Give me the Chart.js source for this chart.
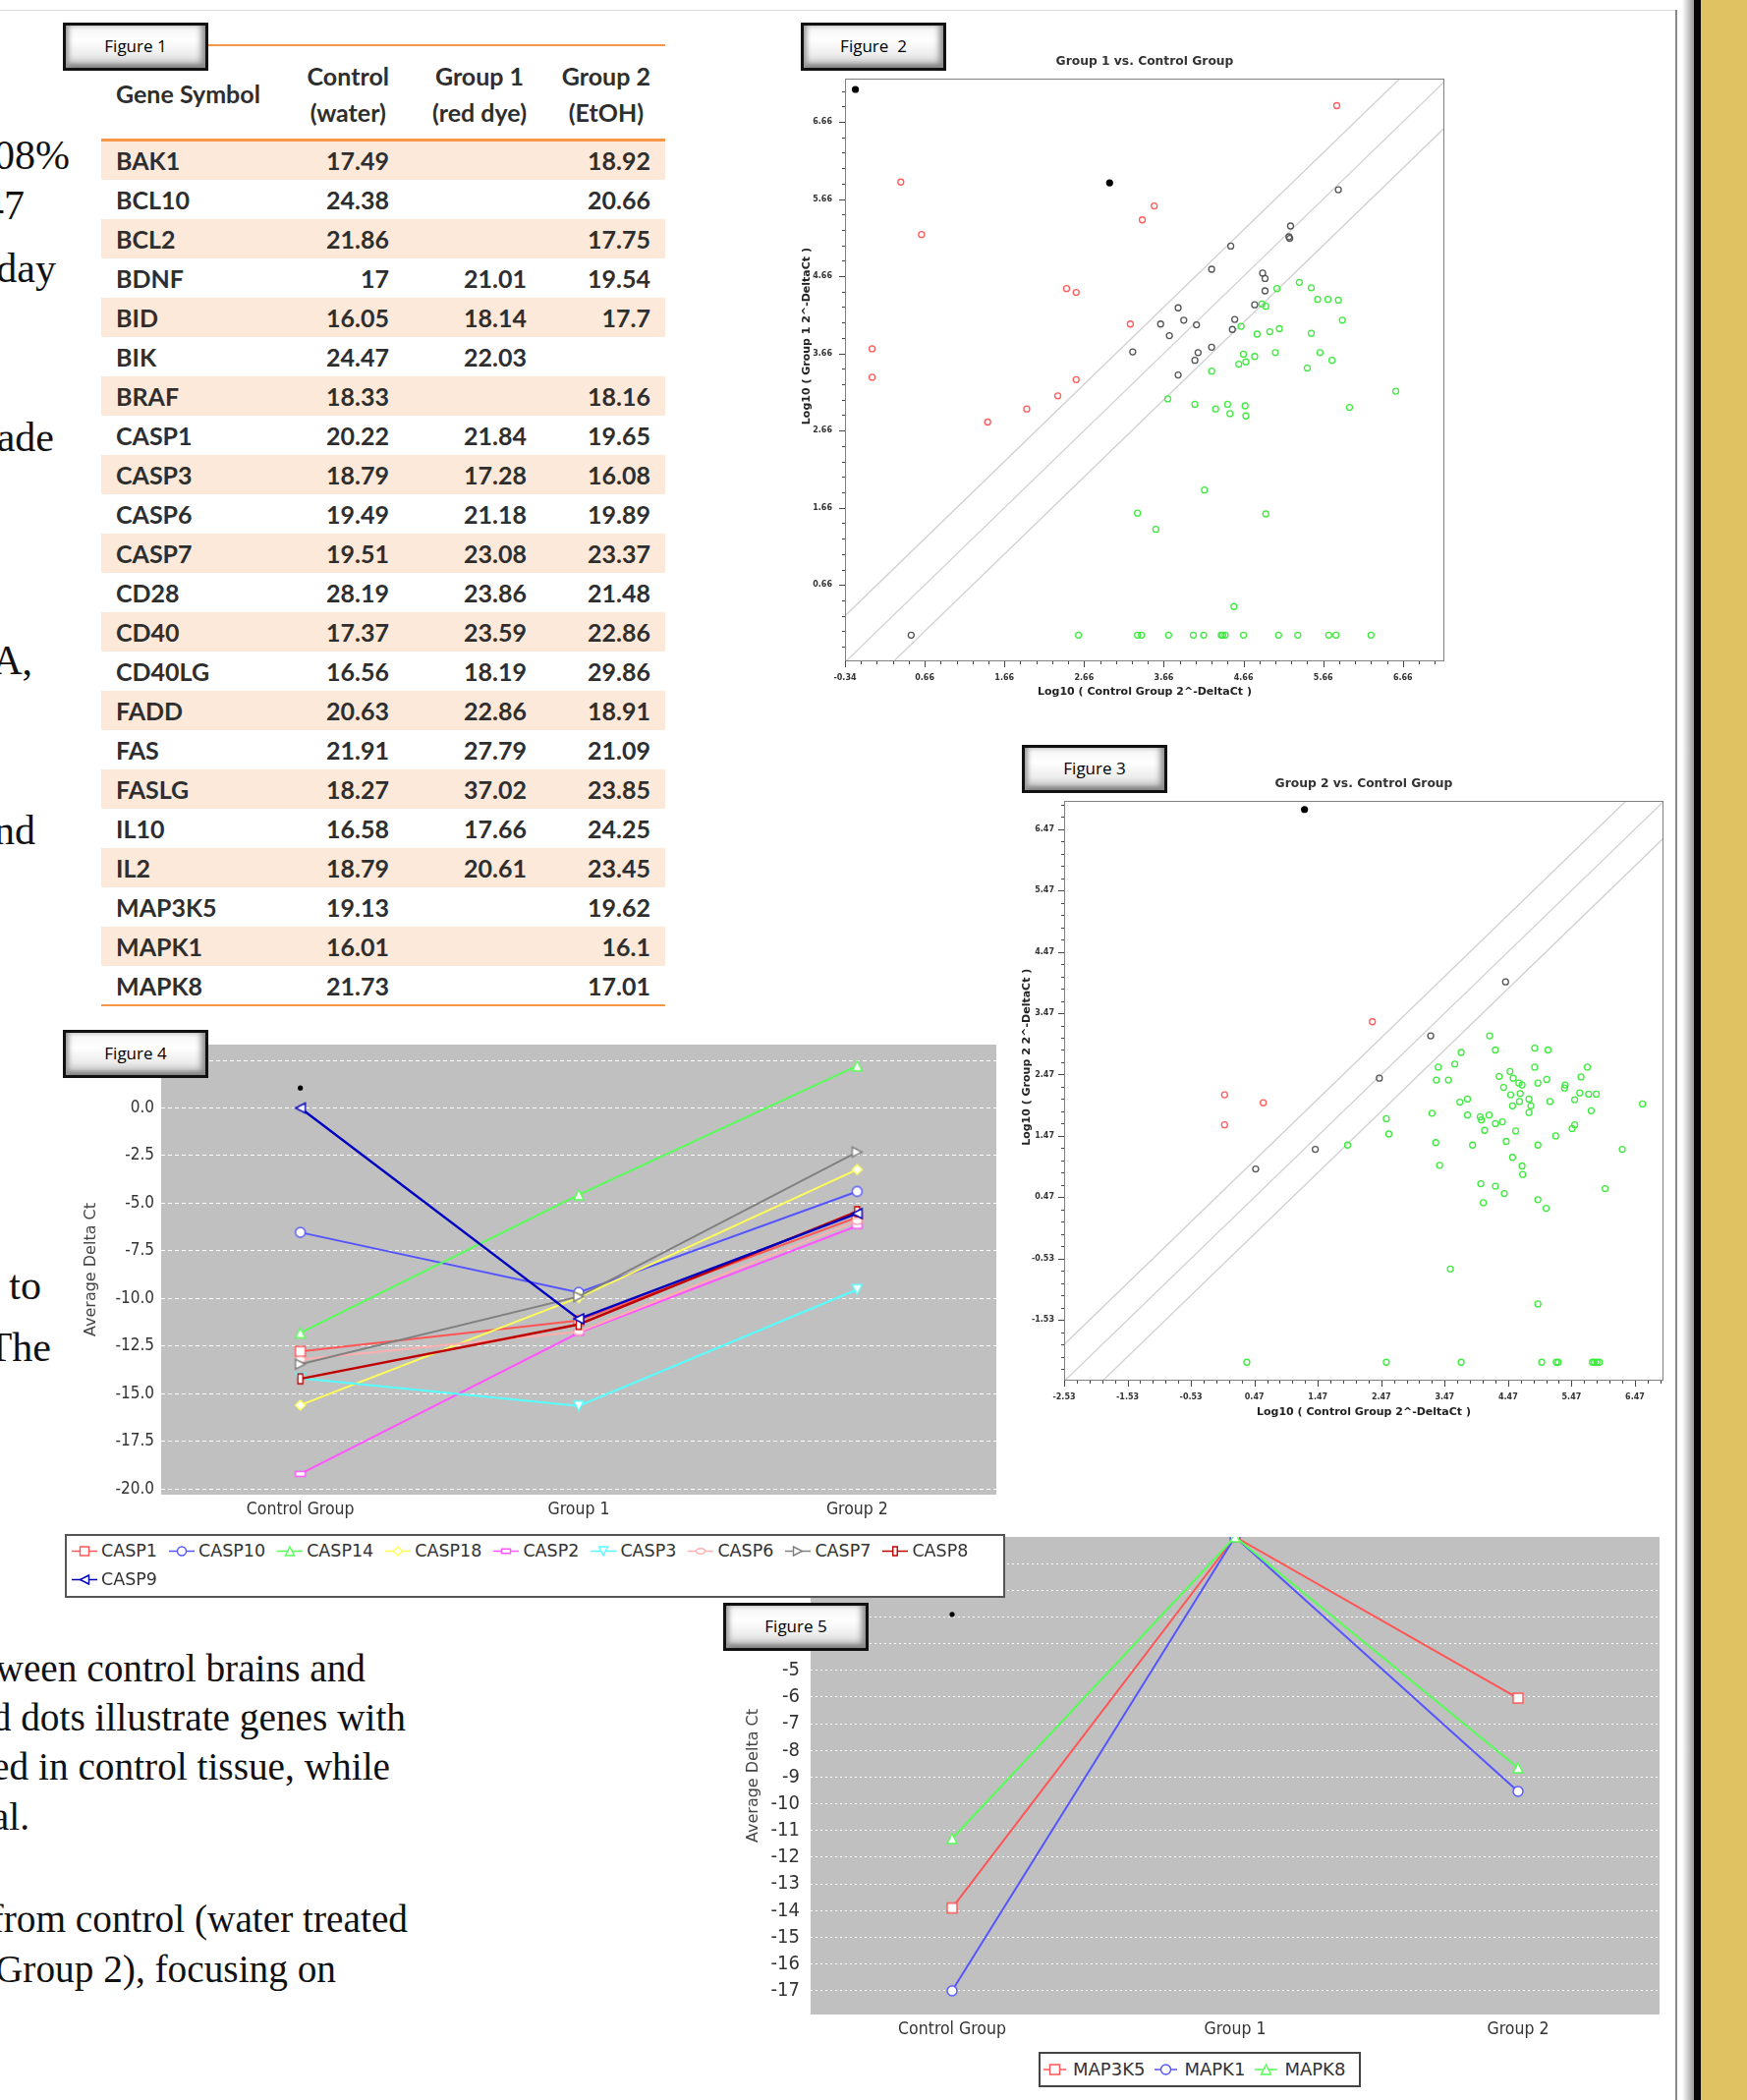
<!DOCTYPE html>
<html lang="en">
<head>
<meta charset="utf-8">
<title>Apoptosis gene expression figures</title>
<script src="https://cdn.jsdelivr.net/npm/chart.js@4.4.0/dist/chart.umd.min.js"></script>
<style>
  html, body { margin: 0; padding: 0; background: #fff; }
  body { position: relative; width: 1778px; height: 2137px; overflow: hidden; }
  .frag { position: absolute; white-space: nowrap; font-family: 'Liberation Serif', 'DejaVu Serif', serif; color: #111; text-align: right; }
  .frag.top { font-size: 42px; line-height: 42px; }
  .frag.bottom { font-size: 39.3px; line-height: 40px; }
  .fig-btn {
    position: absolute; box-sizing: border-box; width: 148px; height: 49px; z-index: 10;
    border: 3px solid #111;
    background: linear-gradient(to bottom, #f4f4f4 0%, #ffffff 35%, #ececec 70%, #b9b9b9 100%);
    box-shadow: inset 5px 0 5px -2px #9a9a9a, inset -6px 0 6px -2px #8a8a8a, inset 0 -6px 5px -3px #7a7a7a;
    font-family: 'Open Sans', 'Liberation Sans', sans-serif; font-size: 17px; color: #000;
    text-align: center; line-height: 42px; white-space: pre;
  }
  .orange { position: absolute; background: #F79646; }
  #table { position: absolute; left: 103px; top: 0; width: 574px; height: 1030px;
    font-family: Lato, 'Open Sans', sans-serif; font-weight: 700; font-size: 25px; color: #2e2e2e; }
  .row { position: absolute; left: 0; width: 574px; height: 40px; line-height: 40px; }
  .row.shade { background: #FDE9D9; }
  .cell { position: absolute; top: 0; white-space: nowrap; }
  .hdr { position: absolute; top: 59px; line-height: 37px; text-align: center; white-space: nowrap; }
  canvas { position: absolute; }
  .legend { position: absolute; box-sizing: border-box; background: #fff; z-index: 5;
    font-family: 'DejaVu Sans', sans-serif; color: #333; display: flex; flex-wrap: wrap; align-content: flex-start; }
  .legend .item { display: inline-flex; align-items: center; white-space: nowrap; }
  #legend4 { left: 66px; top: 1561px; width: 957px; height: 65px; border: 2px solid #555;
    font-size: 17.5px; line-height: 29px; padding: 1px 0 0 5px; }
  #legend4 .item { height: 29px; margin-right: 12px; }
  #legend4 .item canvas { position: static; margin-right: 4px; }
  #legend5 { left: 1057px; top: 2088px; width: 328px; height: 36px; border: 2px solid #444;
    font-size: 18px; line-height: 32px; padding: 0 0 0 3px; }
  #legend5 .item { height: 32px; margin-right: 10px; }
  #legend5 .item canvas { position: static; margin-right: 7px; }
</style>
</head>
<body>

<!-- page edges -->
<div style="position:absolute;left:0;top:10px;width:1705px;height:1px;background:#dcdcdc;"></div>
<div style="position:absolute;left:1705px;top:10px;width:2px;height:2127px;background:#8a8a8a;"></div>
<div style="position:absolute;left:1712px;top:0;width:12px;height:2137px;background:linear-gradient(to right,#ffffff,#9a9a9a);"></div>
<div style="position:absolute;left:1724px;top:0;width:7px;height:2137px;background:#050505;"></div>
<div style="position:absolute;left:1731px;top:0;width:47px;height:2137px;background:#E0C262;"></div>

<!-- cut-off body text on the left -->
<div class="frag top" style="right:1707px;top:137px;">08%</div>
<div class="frag top" style="right:1753px;top:188px;">47</div>
<div class="frag top" style="right:1721px;top:252px;">day</div>
<div class="frag top" style="right:1723px;top:424px;">ade</div>
<div class="frag top" style="right:1745px;top:651px;">A,</div>
<div class="frag top" style="right:1742px;top:824px;">nd</div>
<div class="frag top" style="right:1736px;top:1287px;">to</div>
<div class="frag top" style="right:1726px;top:1350px;">The</div>

<div class="frag bottom" style="right:1406px;top:1678px;">between control brains and</div>
<div class="frag bottom" style="right:1365px;top:1728px;">Red dots illustrate genes with</div>
<div class="frag bottom" style="right:1381px;top:1778px;">expressed in control tissue, while</div>
<div class="frag bottom" style="right:1748px;top:1829px;">normal.</div>
<div class="frag bottom" style="right:1363px;top:1933px;">from control (water treated</div>
<div class="frag bottom" style="right:1436px;top:1984px;">(Group 2), focusing on</div>

<!-- Figure 1 table -->
<div class="orange" style="left:103px;top:45px;width:574px;height:2px;"></div>
<div id="table">
  <div class="hdr" style="left:15px;top:77px;">Gene Symbol</div>
  <div class="hdr" style="right:281px;">Control<br>(water)</div>
  <div class="hdr" style="right:141px;">Group 1<br>(red dye)</div>
  <div class="hdr" style="right:15px;">Group 2<br>(EtOH)</div>
</div>
<div class="orange" style="left:103px;top:141px;width:574px;height:3px;"></div>
<div class="orange" style="left:103px;top:1022px;width:574px;height:2px;"></div>

<!-- figure buttons -->
<div class="fig-btn" style="left:64px;top:23px;">Figure 1</div>
<div class="fig-btn" style="left:815px;top:23px;">Figure  2</div>
<div class="fig-btn" style="left:1040px;top:758px;">Figure 3</div>
<div class="fig-btn" style="left:64px;top:1048px;">Figure 4</div>
<div class="fig-btn" style="left:736px;top:1631px;">Figure 5</div>

<canvas id="fig2" width="700" height="670" style="left:815px;top:50px;width:700px;height:670px;"></canvas>
<canvas id="fig3" width="686" height="670" style="left:1040px;top:784px;width:686px;height:670px;"></canvas>
<canvas id="fig4" width="965" height="505" style="left:60px;top:1050px;width:965px;height:505px;"></canvas>
<canvas id="fig5" width="960" height="528" style="left:740px;top:1557px;width:960px;height:528px;"></canvas>
<div id="legend4" class="legend"></div>
<div id="legend5" class="legend"></div>

<script>
// ---- Figure 1: raw Ct values ----
const genes = ['BAK1', 'BCL10', 'BCL2', 'BDNF', 'BID', 'BIK', 'BRAF', 'CASP1', 'CASP3', 'CASP6', 'CASP7',
  'CD28', 'CD40', 'CD40LG', 'FADD', 'FAS', 'FASLG', 'IL10', 'IL2', 'MAP3K5', 'MAPK1', 'MAPK8'];
const ctControl = [17.49, 24.38, 21.86, 17, 16.05, 24.47, 18.33, 20.22, 18.79, 19.49, 19.51,
  28.19, 17.37, 16.56, 20.63, 21.91, 18.27, 16.58, 18.79, 19.13, 16.01, 21.73];
const ctGroup1 = [null, null, null, 21.01, 18.14, 22.03, null, 21.84, 17.28, 21.18, 23.08,
  23.86, 23.59, 18.19, 22.86, 27.79, 37.02, 17.66, 20.61, null, null, null];
const ctGroup2 = [18.92, 20.66, 17.75, 19.54, 17.7, null, 18.16, 19.65, 16.08, 19.89, 23.37,
  21.48, 22.86, 29.86, 18.91, 21.09, 23.85, 24.25, 23.45, 19.62, 16.1, 17.01];

// ---- Figure 2: Group 1 vs Control (log10 2^-dCt) ----
const fig2Ticks = [-0.34, 0.66, 1.66, 2.66, 3.66, 4.66, 5.66, 6.66];
const fig2Black = [[-0.21, 7.08], [2.98, 5.87]];
const fig2Up = [[5.83, 6.87], [0.36, 5.88], [0.62, 5.20], [3.54, 5.57], [3.39, 5.39], [2.44, 4.50], [2.56, 4.45],
  [3.24, 4.04], [0.00, 3.72], [0.00, 3.35], [2.56, 3.32], [2.33, 3.11], [1.94, 2.94], [1.45, 2.77]];
const fig2Same = [[5.85, 5.78], [5.25, 5.31], [5.23, 5.17], [5.24, 5.15], [4.50, 5.05], [4.26, 4.75], [4.90, 4.70],
  [4.93, 4.63], [4.93, 4.47], [4.80, 4.29], [3.84, 4.25], [3.62, 4.04], [3.91, 4.09], [4.07, 4.03], [3.73, 3.89],
  [4.55, 4.10], [4.52, 3.97], [3.27, 3.68], [4.26, 3.74], [4.09, 3.67], [4.05, 3.57], [3.84, 3.38], [0.49, 0.01]];
const fig2Down = [[5.36, 4.58], [5.51, 4.51], [5.08, 4.50], [5.59, 4.36], [5.72, 4.36], [5.85, 4.35], [4.89, 4.30],
  [4.94, 4.27], [5.90, 4.09], [4.63, 4.01], [4.83, 3.91], [4.99, 3.94], [5.11, 3.98], [5.51, 3.92], [4.66, 3.65],
  [4.80, 3.62], [5.06, 3.67], [5.62, 3.67], [4.60, 3.52], [4.69, 3.55], [5.77, 3.57], [4.26, 3.43], [5.46, 3.47],
  [6.57, 3.17], [3.71, 3.07], [4.05, 3.00], [4.46, 3.00], [4.68, 2.98], [4.31, 2.94], [5.99, 2.96], [4.49, 2.88],
  [4.69, 2.85], [4.17, 1.89], [3.33, 1.59], [4.94, 1.58], [3.56, 1.38], [4.54, 0.38],
  [2.59, 0.01], [3.33, 0.01], [3.38, 0.01], [3.72, 0.01], [4.03, 0.01], [4.16, 0.01], [4.38, 0.01], [4.40, 0.01],
  [4.43, 0.01], [4.66, 0.01], [5.10, 0.01], [5.34, 0.01], [5.73, 0.01], [5.82, 0.01], [6.26, 0.01]];

// ---- Figure 3: Group 2 vs Control ----
const fig3Ticks = [-2.53, -1.53, -0.53, 0.47, 1.47, 2.47, 3.47, 4.47, 5.47, 6.47];
const fig3Black = [[1.26, 6.79]];
const fig3Up = [[2.33, 3.33], [0.00, 2.14], [0.61, 2.01], [0.00, 1.65]];
const fig3Same = [[4.43, 3.98], [3.25, 3.10], [2.44, 2.41], [1.43, 1.25], [0.49, 0.93]];
const fig3Down = [[4.18, 3.10], [3.73, 2.83], [4.27, 2.87], [4.89, 2.90], [5.10, 2.87], [3.63, 2.64], [3.37, 2.59],
  [4.50, 2.52], [4.33, 2.44], [4.55, 2.41], [4.89, 2.59], [5.72, 2.59], [5.62, 2.43], [3.34, 2.38], [3.53, 2.38],
  [4.64, 2.33], [4.69, 2.30], [4.94, 2.33], [5.08, 2.39], [5.37, 2.30], [5.36, 2.25], [4.40, 2.26], [4.51, 2.14],
  [4.66, 2.16], [5.60, 2.17], [5.74, 2.15], [5.86, 2.15], [3.83, 2.07], [3.71, 2.02], [4.80, 2.07], [4.65, 2.03],
  [5.13, 2.03], [5.52, 2.06], [6.59, 1.99], [4.54, 1.96], [4.83, 1.96], [5.78, 1.88], [3.27, 1.84], [3.83, 1.81],
  [4.03, 1.78], [4.17, 1.81], [4.05, 1.73], [4.80, 1.85], [2.55, 1.75], [4.27, 1.67], [4.38, 1.70], [5.52, 1.65],
  [5.48, 1.59], [4.10, 1.56], [4.59, 1.55], [2.59, 1.50], [5.22, 1.47], [1.94, 1.32], [3.33, 1.36], [3.91, 1.32],
  [4.44, 1.38], [4.94, 1.32], [6.27, 1.25], [4.54, 1.12], [3.39, 0.99], [4.69, 0.98], [4.70, 0.84], [4.04, 0.69],
  [4.27, 0.65], [4.41, 0.53], [6.00, 0.61], [4.94, 0.43], [4.08, 0.38], [5.07, 0.29], [3.56, -0.70], [4.94, -1.27],
  [0.35, -2.22], [2.55, -2.22], [3.73, -2.22], [5.00, -2.22], [5.23, -2.22], [5.26, -2.22], [5.80, -2.22],
  [5.83, -2.22], [5.87, -2.22], [5.91, -2.22]];

// fold-change boundaries drawn as y = x + offset
const foldOffsets = [0.6, 0, -0.6];

// ---- Figure 4: caspases, average delta Ct ----
const groups = ['Control Group', 'Group 1', 'Group 2'];
const casp1 = [-12.78, -11.16, -5.74];
const casp10 = [-6.53, -9.68, -4.38];
const casp14 = [-11.81, -4.56, 2.21];
const casp18 = [-15.60, -9.95, -3.23];
const casp2 = [-19.21, -11.80, -6.19];
const casp3 = [-14.18, -15.64, -9.53];
const casp6 = [-13.20, -11.75, -5.94];
const casp7 = [-13.45, -9.90, -2.31];
const casp8 = [-14.22, -11.36, -5.44];
const casp9 = [0.00, -11.07, -5.54];
const fig4Dot = [1.05, null, null];
const fig4Ticks = [-20, -17.5, -15, -12.5, -10, -7.5, -5, -2.5, 0, 2.5];

// ---- Figure 5: MAP kinases ----
const map3k5 = [-13.9, 0, -6.04];
const mapk1 = [-17.0, 0, -9.53];
const mapk8 = [-11.3, 0, -8.65];
const fig5Dot = [-2.9, null, null];
const fig5Ticks = [-17, -16, -15, -14, -13, -12, -11, -10, -9, -8, -7, -6, -5, -4, -3, -2, -1];

Chart.defaults.font.family = "'DejaVu Sans', sans-serif";
const narrow = "'Liberation Sans Narrow', 'DejaVu Sans Condensed', 'Roboto', sans-serif";

// Table
function renderTable() {
    const table = document.getElementById('table');
    const fmt = v => (v === null ? '' : String(v));
    table.insertAdjacentHTML('beforeend', genes.map((g, i) => `
        <div class="row${i % 2 === 0 ? ' shade' : ''}" style="top:${143 + i * 40}px">
            <span class="cell" style="left:15px">${g}</span>
            <span class="cell" style="right:281px">${fmt(ctControl[i])}</span>
            <span class="cell" style="right:141px">${fmt(ctGroup1[i])}</span>
            <span class="cell" style="right:15px">${fmt(ctGroup2[i])}</span>
        </div>`).join(''));
}

// Markers (JFreeChart-like outlined shapes)
function drawMarker(g, shape, cx, cy, size, color) {
    const h = size / 2;
    g.beginPath();
    switch (shape) {
        case 'square': g.rect(cx - h, cy - h, size, size); break;
        case 'circle': g.arc(cx, cy, h, 0, Math.PI * 2); break;
        case 'triUp': g.moveTo(cx, cy - h); g.lineTo(cx + h, cy + h); g.lineTo(cx - h, cy + h); g.closePath(); break;
        case 'diamond': g.moveTo(cx, cy - h); g.lineTo(cx + h, cy); g.lineTo(cx, cy + h); g.lineTo(cx - h, cy); g.closePath(); break;
        case 'hrect': g.rect(cx - h, cy - h / 2, size, h); break;
        case 'triDown': g.moveTo(cx - h, cy - h); g.lineTo(cx + h, cy - h); g.lineTo(cx, cy + h); g.closePath(); break;
        case 'ellipse': g.ellipse(cx, cy, h, h * 0.6, 0, 0, Math.PI * 2); break;
        case 'triRight': g.moveTo(cx - h, cy - h); g.lineTo(cx + h, cy); g.lineTo(cx - h, cy + h); g.closePath(); break;
        case 'vrect': g.rect(cx - h / 2, cy - h, h, size); break;
        case 'triLeft': g.moveTo(cx + h, cy - h); g.lineTo(cx - h, cy); g.lineTo(cx + h, cy + h); g.closePath(); break;
    }
    g.fillStyle = '#fff';
    g.fill();
    g.lineWidth = 1.4;
    g.strokeStyle = color;
    g.stroke();
}

function markerImage(shape, color, size) {
    const c = document.createElement('canvas');
    c.width = c.height = size + 4;
    drawMarker(c.getContext('2d'), shape, (size + 4) / 2, (size + 4) / 2, size, color);
    return c;
}

function legendSymbol(shape, color, w, size) {
    const c = document.createElement('canvas');
    c.width = w;
    c.height = size + 4;
    const g = c.getContext('2d');
    g.strokeStyle = color;
    g.lineWidth = 1.5;
    g.beginPath();
    g.moveTo(0, c.height / 2);
    g.lineTo(w, c.height / 2);
    g.stroke();
    drawMarker(g, shape, w / 2, c.height / 2, size, color);
    return c;
}

function buildLegend(chart, elId, symWidth, size) {
    const el = document.getElementById(elId);
    chart.data.datasets.filter(d => d.label).forEach(d => {
        const item = document.createElement('span');
        item.className = 'item';
        item.appendChild(legendSymbol(d.shape, d.borderColor, symWidth, size));
        const t = document.createElement('span');
        t.textContent = d.label;
        item.appendChild(t);
        el.appendChild(item);
    });
}

// Plugins
const plotBg = {
    id: 'plotBg',
    beforeDraw(chart, args, opts) {
        const a = chart.chartArea;
        chart.ctx.save();
        chart.ctx.fillStyle = opts.color;
        chart.ctx.fillRect(a.left, a.top, a.right - a.left, a.bottom - a.top);
        chart.ctx.restore();
    }
};

const scatterFrame = {
    id: 'scatterFrame',
    afterDraw(chart, args, opts) {
        const { ctx, chartArea: a, scales } = chart;
        ctx.save();
        ctx.strokeStyle = opts.color;
        ctx.lineWidth = 1;
        ctx.strokeRect(a.left + 0.5, a.top + 0.5, a.right - a.left - 1, a.bottom - a.top - 1);

        // major + minor tick marks (5 minor steps per major step)
        ctx.strokeStyle = opts.tickColor;
        [scales.x, scales.y].forEach(scale => {
            const major = opts.ticks;
            const step = (major[1] - major[0]) / 5;
            for (let i = -10; i < 200; i++) {
                const v = major[0] + i * step;
                if (v < scale.min - 1e-6) continue;
                if (v > scale.max + 1e-6) break;
                const len = i % 5 === 0 ? 6 : 3;
                const p = Math.round(scale.getPixelForValue(v)) + 0.5;
                ctx.beginPath();
                if (scale.isHorizontal()) {
                    ctx.moveTo(p, a.bottom);
                    ctx.lineTo(p, a.bottom + len);
                } else {
                    ctx.moveTo(a.left, p);
                    ctx.lineTo(a.left - len, p);
                }
                ctx.stroke();
            }
        });

        // y axis title
        ctx.translate(a.left + opts.yTitleDx, a.top + (a.bottom - a.top) * opts.yTitleFrac);
        ctx.rotate(-Math.PI / 2);
        ctx.font = "bold 11px 'DejaVu Sans'";
        ctx.fillStyle = '#222';
        ctx.textAlign = 'center';
        ctx.textBaseline = 'middle';
        ctx.fillText(opts.yTitle, 0, 0);
        ctx.restore();
    }
};

function pointSet(points, color, filled) {
    return {
        data: points.map(([x, y]) => ({ x, y })),
        pointStyle: 'circle',
        pointRadius: filled ? 3.6 : 3,
        borderWidth: filled ? 0 : 1.3,
        borderColor: color,
        backgroundColor: filled ? color : 'rgba(255,255,255,0)',
        showLine: false,
        order: 1
    };
}

function scatterChart(id, cfg) {
    const lines = foldOffsets.map(c => ({
        data: [{ x: cfg.xMin, y: cfg.xMin + c }, { x: cfg.xMax, y: cfg.xMax + c }],
        showLine: true,
        borderColor: '#d0d0d0',
        borderWidth: 1.3,
        pointRadius: 0,
        order: 2
    }));
    const tickFont = { size: 8, weight: 'bold', family: "'DejaVu Sans'" };
    const pickTicks = s => {
        s.ticks = cfg.ticks.filter(v => v >= s.min - 1e-9 && v <= s.max + 1e-9).map(v => ({ value: v }));
    };
    return new Chart(document.getElementById(id), {
        type: 'scatter',
        data: {
            datasets: [
                pointSet(cfg.black, '#000', true),
                pointSet(cfg.up, '#FF5A5A', false),
                pointSet(cfg.same, '#555555', false),
                pointSet(cfg.down, '#3FEA3F', false),
                ...lines
            ]
        },
        options: {
            responsive: false,
            animation: false,
            events: [],
            layout: { padding: { right: cfg.padRight } },
            plugins: {
                legend: { display: false },
                tooltip: { enabled: false },
                title: {
                    display: true, text: cfg.title, fullSize: false, color: '#333',
                    font: { size: 12.3, weight: 'bold', family: "'DejaVu Sans'", lineHeight: 1 },
                    padding: { top: cfg.titleTop, bottom: cfg.titleBottom }
                },
                scatterFrame: {
                    color: '#808080', tickColor: '#444', ticks: cfg.ticks,
                    yTitle: cfg.yTitle, yTitleDx: cfg.yTitleDx, yTitleFrac: 0.442
                }
            },
            scales: {
                x: {
                    type: 'linear', min: cfg.xMin, max: cfg.xMax,
                    afterBuildTicks: pickTicks,
                    grid: { display: false, drawTicks: false },
                    border: { display: false },
                    ticks: { autoSkip: false, maxRotation: 0, padding: 12.2, color: '#333', font: tickFont,
                        callback: v => v.toFixed(2) },
                    title: { display: true, text: cfg.xTitle, color: '#222',
                        font: { size: 11, weight: 'bold', family: "'DejaVu Sans'", lineHeight: 1 },
                        padding: { top: 0, bottom: cfg.xTitleBottom } },
                    afterFit: s => { s.height = cfg.xHeight; s.paddingLeft = 0; s.paddingRight = 0; }
                },
                y: {
                    type: 'linear', min: cfg.yMin, max: cfg.yMax,
                    afterBuildTicks: pickTicks,
                    grid: { display: false, drawTicks: false },
                    border: { display: false },
                    ticks: { autoSkip: false, padding: cfg.yPad, color: '#333', font: tickFont,
                        callback: v => v.toFixed(2) },
                    afterFit: s => { s.width = cfg.yWidth; s.paddingTop = 0; s.paddingBottom = 0; }
                }
            }
        },
        plugins: [scatterFrame]
    });
}

function lineSet(label, values, color, shape, width, order) {
    return {
        label,
        data: values,
        shape,
        order,
        borderColor: color,
        backgroundColor: color,
        borderWidth: width,
        pointStyle: markerImage(shape, color, 10),
        pointRadius: 5,
        tension: 0,
        fill: false
    };
}

function dotSet(values) {
    return {
        label: '',
        data: values,
        showLine: false,
        order: 0,
        pointStyle: 'circle',
        pointRadius: 2.6,
        borderWidth: 0,
        backgroundColor: '#000',
        borderColor: '#000'
    };
}

function deltaChart(id, cfg) {
    return new Chart(document.getElementById(id), {
        type: 'line',
        data: { labels: groups, datasets: cfg.datasets },
        options: {
            responsive: false,
            animation: false,
            events: [],
            layout: { padding: { top: cfg.padTop, right: 11 } },
            plugins: {
                legend: { display: false },
                tooltip: { enabled: false },
                plotBg: { color: '#C0C0C0' }
            },
            scales: {
                x: {
                    offset: true,
                    grid: { display: false, drawTicks: false },
                    border: { display: false },
                    ticks: { padding: 5, color: '#333', font: { family: narrow, size: 17.5 } },
                    afterFit: s => { s.height = cfg.xHeight; s.paddingLeft = 0; s.paddingRight = 0; }
                },
                y: {
                    min: cfg.yMin, max: cfg.yMax,
                    afterBuildTicks: s => { s.ticks = cfg.ticks.map(v => ({ value: v })); },
                    grid: { color: '#ffffff', lineWidth: 1, drawTicks: false },
                    border: { display: false, dash: cfg.dash },
                    ticks: { padding: cfg.yPad, color: '#333', font: { family: narrow, size: cfg.tickSize },
                        callback: cfg.tickFormat },
                    title: { display: true, text: 'Average Delta Ct', color: '#444',
                        font: { family: "'DejaVu Sans'", size: 16 }, padding: { top: cfg.titlePad, bottom: 0 } },
                    afterFit: s => { s.width = cfg.yWidth; s.paddingTop = 0; s.paddingBottom = 0; }
                }
            }
        },
        plugins: [plotBg]
    });
}

renderTable();

// title centre = top + pad.top + 6.15 ; chart area top = top + pad.top + 12.3 + pad.bottom
scatterChart('fig2', {
    title: 'Group 1 vs. Control Group',
    xTitle: 'Log10 ( Control Group 2^-DeltaCt )',
    yTitle: 'Log10 ( Group 1 2^-DeltaCt )',
    ticks: fig2Ticks, xMin: -0.34, xMax: 7.18, yMin: -0.33, yMax: 7.22,
    black: fig2Black, up: fig2Up, same: fig2Same, down: fig2Down,
    padRight: 45, titleTop: 6.9, titleBottom: 10.8, xHeight: 47, xTitleBottom: 10.5,
    yWidth: 45, yPad: 13, yTitleDx: -39
});

scatterChart('fig3', {
    title: 'Group 2 vs. Control Group',
    xTitle: 'Log10 ( Control Group 2^-DeltaCt )',
    yTitle: 'Log10 ( Group 2 2^-DeltaCt )',
    ticks: fig3Ticks, xMin: -2.53, xMax: 6.92, yMin: -2.52, yMax: 6.93,
    black: fig3Black, up: fig3Up, same: fig3Same, down: fig3Down,
    padRight: 33, titleTop: 7.9, titleBottom: 10.8, xHeight: 49, xTitleBottom: 11,
    yWidth: 43, yPad: 10, yTitleDx: -38
});

// later series are drawn on top (higher order is drawn first)
const fig4 = deltaChart('fig4', {
    datasets: [
        lineSet('CASP1', casp1, '#FF5555', 'square', 2, 10),
        lineSet('CASP10', casp10, '#5555FF', 'circle', 2, 9),
        lineSet('CASP14', casp14, '#55FF55', 'triUp', 2, 8),
        lineSet('CASP18', casp18, '#FFFF55', 'diamond', 2, 7),
        lineSet('CASP2', casp2, '#FF55FF', 'hrect', 2, 6),
        lineSet('CASP3', casp3, '#55FFFF', 'triDown', 2, 5),
        lineSet('CASP6', casp6, '#FFAFAF', 'ellipse', 2, 4),
        lineSet('CASP7', casp7, '#808080', 'triRight', 2, 3),
        lineSet('CASP8', casp8, '#C00000', 'vrect', 2.4, 2),
        lineSet('CASP9', casp9, '#0000C0', 'triLeft', 2.4, 1),
        dotSet(fig4Dot)
    ],
    yMin: -20.3, yMax: 3.33, ticks: fig4Ticks, dash: [4, 3],
    padTop: 13, xHeight: 34, yWidth: 104, yPad: 7, tickSize: 17, titlePad: 23.4,
    tickFormat: v => v.toFixed(1)
});
buildLegend(fig4, 'legend4', 26, 9);

const fig5 = deltaChart('fig5', {
    datasets: [
        lineSet('MAP3K5', map3k5, '#FF5555', 'square', 2, 3),
        lineSet('MAPK1', mapk1, '#5555FF', 'circle', 2, 2),
        lineSet('MAPK8', mapk8, '#55FF55', 'triUp', 2, 1),
        dotSet(fig5Dot)
    ],
    yMin: -17.89, yMax: 0, ticks: fig5Ticks, dash: [2, 3],
    padTop: 0, xHeight: 35, yWidth: 85, yPad: 11, tickSize: 20, titlePad: 17.4,
    tickFormat: v => String(v)
});
buildLegend(fig5, 'legend5', 23, 10);
</script>
</body>
</html>
